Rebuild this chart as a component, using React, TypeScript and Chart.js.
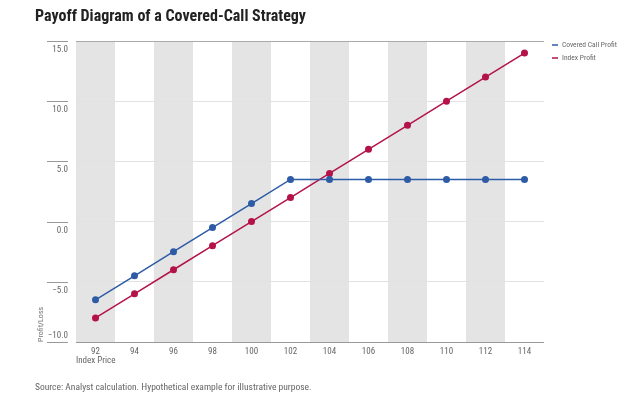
import React, { useEffect, useRef } from "react";
import { Chart, registerables } from "chart.js";

Chart.register(...registerables);

const xLabels = ["92", "94", "96", "98", "100", "102", "104", "106", "108", "110", "112", "114"];
const coveredCall = [-6.5, -4.5, -2.5, -0.5, 1.5, 3.5, 3.5, 3.5, 3.5, 3.5, 3.5, 3.5];
const indexProfit = [-8, -6, -4, -2, 0, 2, 4, 6, 8, 10, 12, 14];
const seriesNames = ["Covered Call Profit", "Index Profit"];
const seriesColors = ["#2d5ba6", "#b3124a"];
const yMin = -10;
const yMax = 15;
const yStep = 5;

const FONT = "'Liberation Sans Narrow', 'Roboto Condensed', 'DejaVu Sans Condensed', sans-serif";

const fmt = (v: number) => (v < 0 ? "\u2212" + Math.abs(v).toFixed(1) : v.toFixed(1));

const decor = {
  id: "decor",
  beforeDraw(chart: any) {
    const { ctx, chartArea, scales } = chart;
    const x = scales.x;
    const w = x.getPixelForValue(1) - x.getPixelForValue(0);
    ctx.save();
    ctx.fillStyle = "#e4e4e4";
    for (let i = 0; i < xLabels.length; i += 2) {
      const c = x.getPixelForValue(i);
      ctx.fillRect(c - w / 2, chartArea.top, w, chartArea.bottom - chartArea.top);
    }
    ctx.restore();
  },
  afterDraw(chart: any) {
    const { ctx, chartArea, scales } = chart;
    const y = scales.y;
    const x = scales.x;
    ctx.save();
    // bottom axis line
    ctx.strokeStyle = "#999";
    ctx.lineWidth = 1;
    const by = Math.round(chartArea.bottom) + 0.5;
    ctx.beginPath();
    ctx.moveTo(chartArea.left, by);
    ctx.lineTo(chartArea.right, by);
    ctx.stroke();
    // y ticks
    ctx.font = `9px ${FONT}`;
    ctx.fillStyle = "#666";
    ctx.textAlign = "right";
    ctx.textBaseline = "middle";
    for (let v = yMin; v <= yMax; v += yStep) {
      const py = Math.round(y.getPixelForValue(v)) + 0.5;
      ctx.strokeStyle = "#999";
      ctx.beginPath();
      ctx.moveTo(chartArea.left - 29, py);
      ctx.lineTo(chartArea.left - 8, py);
      ctx.stroke();
      ctx.fillText(fmt(v), chartArea.left - 8, v === yMin ? py - 7 : py + 8);
    }
    // x labels
    ctx.textAlign = "center";
    xLabels.forEach((lab, i) => {
      ctx.fillText(lab, x.getPixelForValue(i), chartArea.bottom + 10);
    });
    // y axis title
    ctx.save();
    ctx.translate(chartArea.left - 35, chartArea.bottom);
    ctx.rotate(-Math.PI / 2);
    ctx.font = `8px ${FONT}`;
    ctx.fillStyle = "#777";
    ctx.textAlign = "left";
    ctx.textBaseline = "middle";
    ctx.fillText("Profit/Loss", 0, 0);
    ctx.restore();
    // x axis title
    ctx.font = `9px ${FONT}`;
    ctx.fillStyle = "#666";
    ctx.textAlign = "left";
    ctx.textBaseline = "middle";
    ctx.fillText("Index Price", chartArea.left, chartArea.bottom + 19);
    // legend
    ctx.font = `7.5px ${FONT}`;
    seriesNames.forEach((name, i) => {
      const ly = chartArea.top + 4 + i * 13;
      const lx = chartArea.right + 8;
      ctx.strokeStyle = seriesColors[i];
      ctx.lineWidth = 1.5;
      ctx.beginPath();
      ctx.moveTo(lx, ly);
      ctx.lineTo(lx + 6, ly);
      ctx.stroke();
      ctx.fillStyle = "#666";
      ctx.fillText(name, lx + 10, ly);
    });
    ctx.restore();
  },
};

export default function App() {
  const ref = useRef<HTMLCanvasElement | null>(null);
  useEffect(() => {
    if (!ref.current) return;
    const chart = new Chart(ref.current, {
      type: "line",
      data: {
        labels: xLabels,
        datasets: [
          {
            label: seriesNames[0],
            data: coveredCall,
            borderColor: seriesColors[0],
            backgroundColor: seriesColors[0],
            borderWidth: 1.5,
            pointRadius: 3.5,
            pointBorderWidth: 0,
            tension: 0,
          },
          {
            label: seriesNames[1],
            data: indexProfit,
            borderColor: seriesColors[1],
            backgroundColor: seriesColors[1],
            borderWidth: 1.5,
            pointRadius: 3.5,
            pointBorderWidth: 0,
            tension: 0,
          },
        ],
      },
      options: {
        responsive: false,
        animation: false,
        layout: { padding: { left: 76, right: 96, top: 41, bottom: 61 } },
        plugins: {
          legend: { display: false },
          tooltip: { enabled: false },
          title: { display: false },
        },
        scales: {
          x: {
            type: "category",
            offset: true,
            grid: { display: false, drawTicks: false },
            border: { display: false },
            ticks: { display: false, autoSkip: false },
          },
          y: {
            min: yMin,
            max: yMax,
            grid: {
              drawTicks: false,
              color: (c: any) => (c.tick && c.tick.value === yMax ? "#aaa" : "#e2e2e2"),
            },
            border: { display: false },
            ticks: { display: false, stepSize: yStep },
          },
        },
      },
      plugins: [decor],
    } as any);
    return () => chart.destroy();
  }, []);
  return (
    <div style={{ position: "absolute", left: 0, top: 0, width: 640, height: 403, background: "#fff" }}>
      <canvas ref={ref} width={640} height={403} style={{ position: "absolute", left: 0, top: 0 }} />
      <div
        style={{
          position: "absolute",
          left: 35,
          top: 6,
          fontFamily: FONT,
          fontWeight: "bold",
          fontSize: 16,
          color: "#222",
          whiteSpace: "nowrap",
        }}
      >
        Payoff Diagram of a Covered-Call Strategy
      </div>
      <div
        style={{
          position: "absolute",
          left: 35,
          top: 381,
          fontFamily: FONT,
          fontSize: 9.5,
          color: "#666",
          whiteSpace: "nowrap",
        }}
      >
        Source: Analyst calculation. Hypothetical example for illustrative purpose.
      </div>
    </div>
  );
}
